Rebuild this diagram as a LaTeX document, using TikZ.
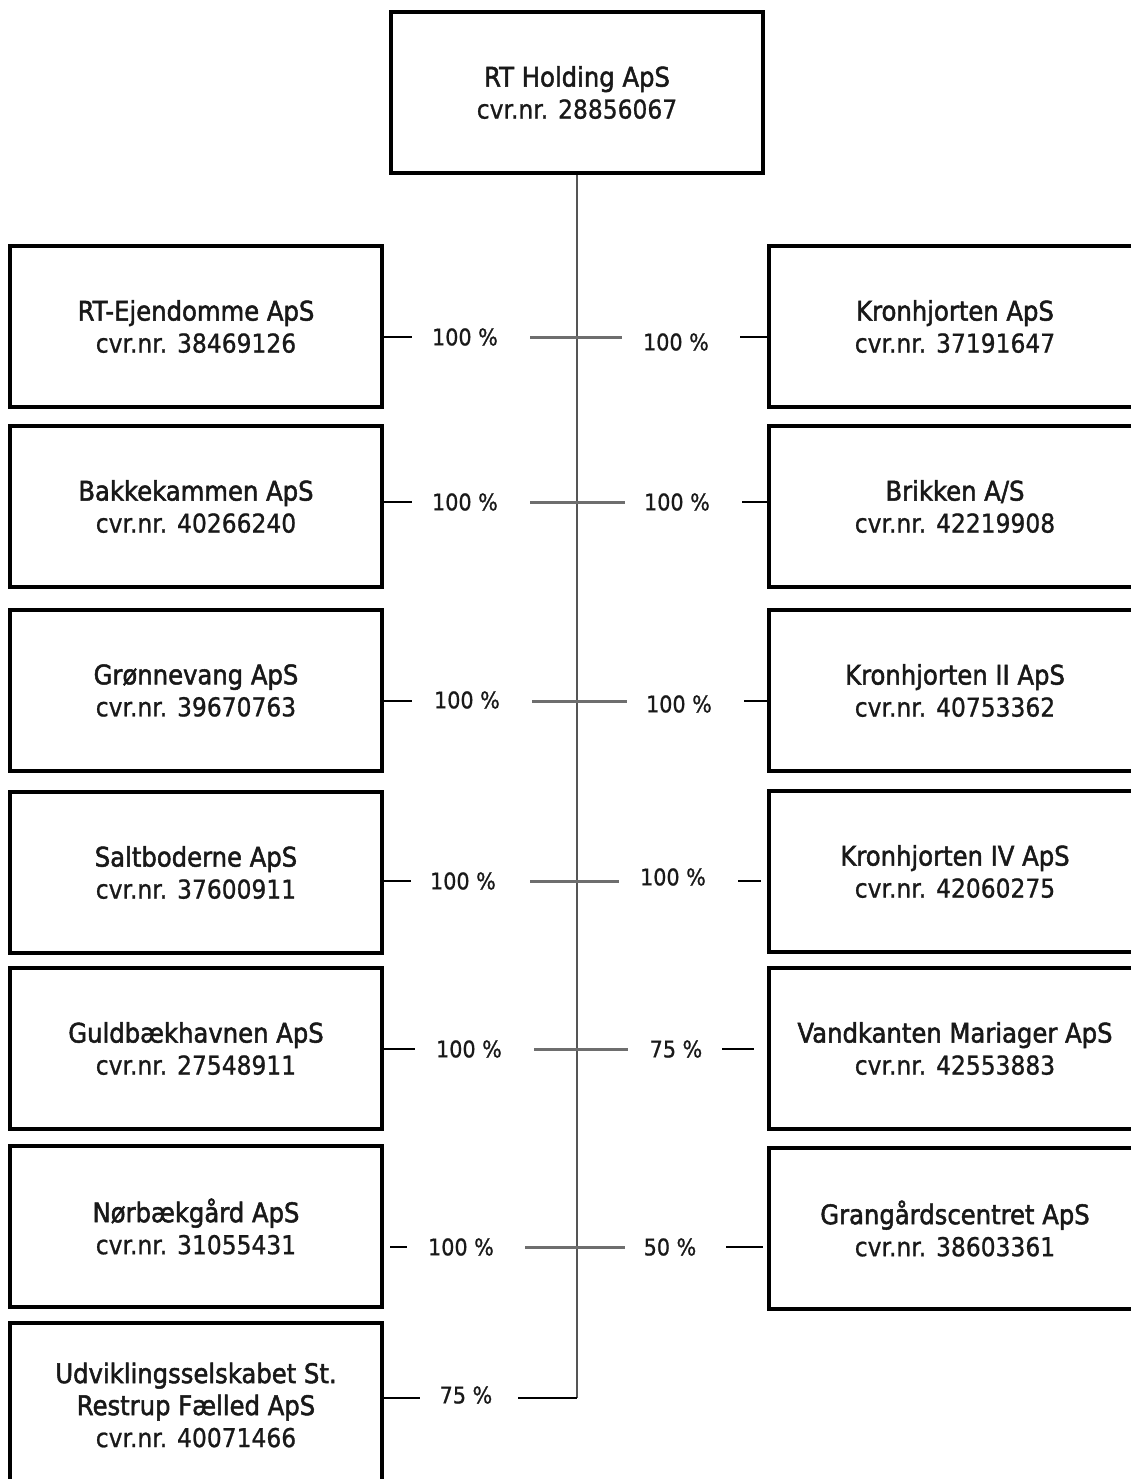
\documentclass[tikz,border=0pt]{standalone}
\usepackage{fontspec}
\setmainfont{DejaVu Sans}[FakeStretch=0.9]
\newfontfamily\nmfont{DejaVu Sans}[FakeStretch=0.9,FakeBold=1.8]
\newfontfamily\rgfont{DejaVu Sans}[FakeStretch=0.9,FakeBold=0.9]
\definecolor{trunkgray}{RGB}{85,85,85}
\definecolor{seggray}{RGB}{110,110,110}
\definecolor{txt}{RGB}{25,25,25}
\newcommand\cvrline[1]{{\rgfont\fontsize{26}{32}\selectfont cvr.nr. #1}}
\begin{document}
\begin{tikzpicture}[x=1pt,y=-1pt,
 company/.style={draw=black,line width=3.5pt,minimum width=372pt,minimum height=161pt,inner sep=0pt,align=center,font=\nmfont\fontsize{27}{32}\selectfont,text=txt},
 pct/.style={font=\rgfont\fontsize{23}{28}\selectfont,inner sep=0pt,text=txt},
 outerline/.style={draw=black,line width=2pt},
 innerline/.style={draw=seggray,line width=3pt},
 trunk/.style={draw=trunkgray,line width=2pt}]
\useasboundingbox (0,0) rectangle (1131,1479);
\fill[white] (0,0) rectangle (1131,1479);

% top
\node[company] (top) at (577,92.5) {RT Holding ApS\\\cvrline{28856067}};

% left
\node[company] (L1) at (196,326.5) {RT-Ejendomme ApS\\\cvrline{38469126}};
\node[company] (L2) at (196,506.5) {Bakkekammen ApS\\\cvrline{40266240}};
\node[company] (L3) at (196,690.5) {Grønnevang ApS\\\cvrline{39670763}};
\node[company] (L4) at (196,872.5) {Saltboderne ApS\\\cvrline{37600911}};
\node[company] (L5) at (196,1048.5) {Guldbækhavnen ApS\\\cvrline{27548911}};
\node[company] (L6) at (196,1226.5) {Nørbækgård ApS\\\cvrline{31055431}};
\node[company,minimum height=164pt] (L7) at (196,1405) {Udviklingsselskabet St.\\Restrup Fælled ApS\\\cvrline{40071466}};

% right
\node[company] (R1) at (955,326.5) {Kronhjorten ApS\\\cvrline{37191647}};
\node[company] (R2) at (955,506.5) {Brikken A/S\\\cvrline{42219908}};
\node[company] (R3) at (955,690.5) {Kronhjorten II ApS\\\cvrline{40753362}};
\node[company] (R4) at (955,871.5) {Kronhjorten IV ApS\\\cvrline{42060275}};
\node[company] (R5) at (955,1048.5) {Vandkanten Mariager ApS\\\cvrline{42553883}};
\node[company] (R6) at (955,1228.5) {Grangårdscentret ApS\\\cvrline{38603361}};

% percentages
\node[pct] (pl1) at (465,337) {100 \%};
\node[pct] (pr1) at (676,342) {100 \%};
\node[pct] (pl2) at (465,502) {100 \%};
\node[pct] (pr2) at (677,502) {100 \%};
\node[pct] (pl3) at (467,700) {100 \%};
\node[pct] (pr3) at (679,704) {100 \%};
\node[pct] (pl4) at (463,881) {100 \%};
\node[pct] (pr4) at (673,877) {100 \%};
\node[pct] (pl5) at (469,1049) {100 \%};
\node[pct] (pr5) at (676,1049) {75 \%};
\node[pct] (pl6) at (461,1247) {100 \%};
\node[pct] (pr6) at (670,1247) {50 \%};
\node[pct] (pl7) at (466,1395) {75 \%};

% segment end points
\coordinate (a1) at (412,337); \coordinate (b1) at (530,337); \coordinate (c1) at (622,337); \coordinate (d1) at (740,337);
\coordinate (a2) at (412,502); \coordinate (b2) at (530,502); \coordinate (c2) at (625,502); \coordinate (d2) at (742,502);
\coordinate (a3) at (412,701); \coordinate (b3) at (532,701); \coordinate (c3) at (627,701); \coordinate (d3) at (744,701);
\coordinate (a4) at (411,881); \coordinate (b4) at (530,881); \coordinate (c4) at (619,881); \coordinate (d4) at (738,881); \coordinate (e4) at (761,881);
\coordinate (a5) at (415,1049); \coordinate (b5) at (534,1049); \coordinate (c5) at (628,1049); \coordinate (d5) at (722,1049); \coordinate (e5) at (754,1049);
\coordinate (s6) at (390,1247); \coordinate (a6) at (407,1247); \coordinate (b6) at (525,1247); \coordinate (c6) at (625,1247); \coordinate (d6) at (726,1247); \coordinate (e6) at (763,1247);
\coordinate (a7) at (420,1398); \coordinate (b7) at (518,1398); \coordinate (tb) at (577,1398);

% trunk
\draw[trunk] (top.south) -- (tb);
\draw[outerline] (b7) -- (tb);

% row connectors
\draw[outerline] (L1.east |- a1) -- (a1);
\draw[innerline] (b1) -- (c1);
\draw[outerline] (d1) -- (R1.west |- d1);

\draw[outerline] (L2.east |- a2) -- (a2);
\draw[innerline] (b2) -- (c2);
\draw[outerline] (d2) -- (R2.west |- d2);

\draw[outerline] (L3.east |- a3) -- (a3);
\draw[innerline] (b3) -- (c3);
\draw[outerline] (d3) -- (R3.west |- d3);

\draw[outerline] (L4.east |- a4) -- (a4);
\draw[innerline] (b4) -- (c4);
\draw[outerline] (d4) -- (e4);

\draw[outerline] (L5.east |- a5) -- (a5);
\draw[innerline] (b5) -- (c5);
\draw[outerline] (d5) -- (e5);

\draw[outerline] (s6) -- (a6);
\draw[innerline] (b6) -- (c6);
\draw[outerline] (d6) -- (e6);

\draw[outerline] (L7.east |- a7) -- (a7);
\end{tikzpicture}
\end{document}
